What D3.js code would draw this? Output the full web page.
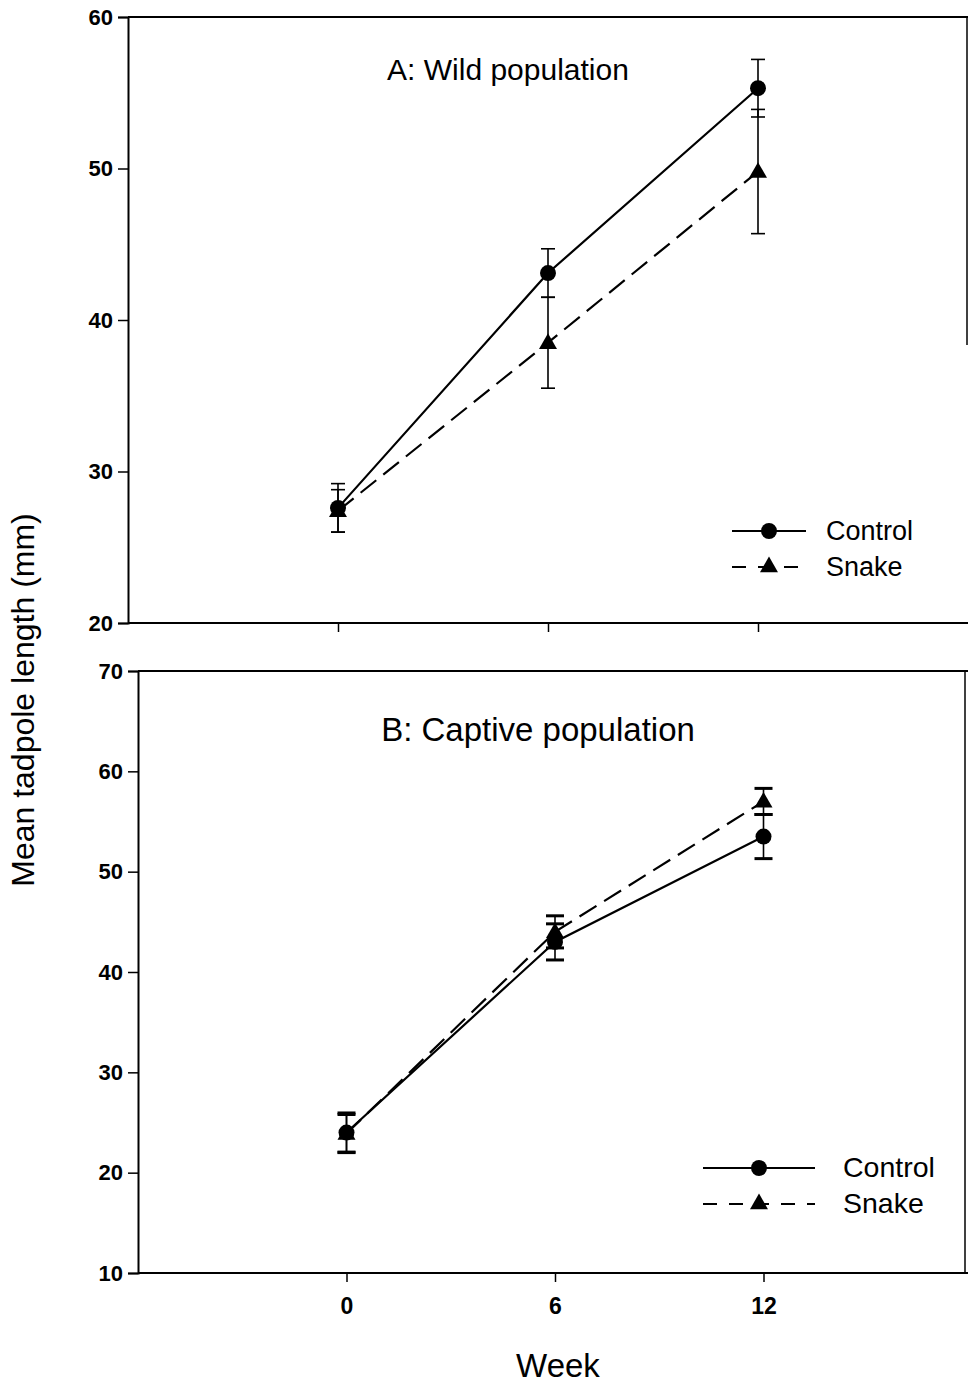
<!DOCTYPE html>
<html><head><meta charset="utf-8">
<script src="https://cdn.jsdelivr.net/npm/d3@7"></script>
<style>body{margin:0;background:#fff}svg{display:block}</style>
</head><body>
<svg id="c" width="968" height="1386"></svg>
<script>
const weeks = [0, 6, 12];
const wildControl = [27.6, 43.1, 55.3];
const wildControlErr = [1.6, 1.6, 1.9];
const wildSnake = [27.4, 38.5, 49.8];
const wildSnakeErr = [1.4, 3.0, 4.1];
const captiveControl = [24.0, 43.0, 53.5];
const captiveControlErr = [1.95, 1.8, 2.2];
const captiveSnake = [23.9, 44.0, 57.0];
const captiveSnakeErr = [1.9, 1.6, 1.3];
const wildTicks = [20, 30, 40, 50, 60];
const captiveTicks = [10, 20, 30, 40, 50, 60, 70];
const xTickLabels = ["0", "6", "12"];
const seriesNames = ["Control", "Snake"];

const svg = d3.select("#c");
const FONT = "Liberation Sans, Arial, sans-serif";

function panel(cfg) {
  const g = svg.append("g");
  const x = d3.scaleLinear().domain([-6, 18]).range([cfg.left, cfg.left + 24 * cfg.pxPerWeek]);
  const y = d3.scaleLinear().domain(cfg.yDomain).range([cfg.bottom, cfg.top]);

  const ya = g.append("g").attr("transform", `translate(${cfg.left},0)`)
    .call(d3.axisLeft(y).tickValues(cfg.yTicks).tickSize(10).tickPadding(5));
  ya.select(".domain").attr("stroke", "#000").attr("stroke-width", 2);
  ya.selectAll(".tick line").attr("stroke-width", 1.5);
  ya.selectAll(".tick text").attr("font-family", FONT).attr("font-weight", "bold")
    .style("font-size", "22px").attr("fill", "#000");

  const xa = g.append("g").attr("transform", `translate(0,${cfg.bottom})`)
    .call(d3.axisBottom(x).tickValues(weeks).tickSize(9).tickPadding(16)
      .tickFormat((d, i) => cfg.xLabels ? xTickLabels[i] : ""));
  xa.select(".domain").attr("d", `M${cfg.left},0H968`).attr("stroke", "#000").attr("stroke-width", 2);
  xa.selectAll(".tick line").attr("stroke-width", 1.5);
  xa.selectAll(".tick text").attr("font-family", FONT).attr("font-weight", "bold")
    .style("font-size", "23px").attr("fill", "#000");

  g.append("line").attr("x1", cfg.left).attr("x2", 968).attr("y1", cfg.top).attr("y2", cfg.top)
    .attr("stroke", "#000").attr("stroke-width", 2);
  g.append("line").attr("x1", cfg.rightX).attr("x2", cfg.rightX).attr("y1", cfg.top).attr("y2", cfg.rightEnd)
    .attr("stroke", "#000").attr("stroke-width", 1.5);

  g.append("text").attr("x", cfg.titleX).attr("y", cfg.titleY).attr("text-anchor", "middle")
    .attr("font-family", FONT).attr("font-size", cfg.titleSize).attr("fill", "#000").text(cfg.title);

  const series = [
    {name: seriesNames[0], vals: cfg.control, err: cfg.controlErr, dash: null, sym: d3.symbolCircle, size: 200},
    {name: seriesNames[1], vals: cfg.snake, err: cfg.snakeErr, dash: "20,9", sym: d3.symbolTriangle, size: 140}
  ];
  const line = d3.line().x((d, i) => x(weeks[i])).y(d => y(d));
  series.slice().reverse().forEach(s => {
    s.vals.forEach((v, i) => {
      const cx = x(weeks[i]);
      g.append("line").attr("x1", cx).attr("x2", cx).attr("y1", y(v - s.err[i])).attr("y2", y(v + s.err[i]))
        .attr("stroke", "#000").attr("stroke-width", 1.6);
      [v - s.err[i], v + s.err[i]].forEach(e => {
        g.append("line").attr("x1", cx - cfg.capW).attr("x2", cx + cfg.capW).attr("y1", y(e)).attr("y2", y(e))
          .attr("stroke", "#000").attr("stroke-width", cfg.capStroke);
      });
    });
    g.append("path").datum(s.vals).attr("d", line).attr("fill", "none").attr("stroke", "#000")
      .attr("stroke-width", 2.2).attr("stroke-dasharray", s.dash);
    g.selectAll(null).data(s.vals).enter().append("path")
      .attr("d", d3.symbol().type(s.sym).size(s.size))
      .attr("transform", (d, i) => `translate(${x(weeks[i])},${y(d) + (s.sym === d3.symbolTriangle ? 1 : 0)})`)
      .attr("fill", "#000");
  });

  series.forEach((s, i) => {
    const ly = cfg.legY + i * 36;
    g.append("line").attr("x1", cfg.legX1).attr("x2", cfg.legX2).attr("y1", ly).attr("y2", ly)
      .attr("stroke", "#000").attr("stroke-width", 2.2).attr("stroke-dasharray", s.dash ? "14,12" : null);
    g.append("path").attr("d", d3.symbol().type(s.sym).size(s.size))
      .attr("transform", `translate(${(cfg.legX1 + cfg.legX2) / 2},${ly})`).attr("fill", "#000");
    g.append("text").attr("x", cfg.legText).attr("y", ly + 9).attr("font-family", FONT)
      .attr("font-size", cfg.legSize).attr("fill", "#000").text(s.name);
  });
}

panel({left: 128, top: 17, bottom: 623, pxPerWeek: 35, yDomain: [20, 60], yTicks: wildTicks,
  control: wildControl, controlErr: wildControlErr, snake: wildSnake, snakeErr: wildSnakeErr,
  title: "A: Wild population", titleX: 508, titleY: 80, titleSize: 30,
  rightX: 967, rightEnd: 345, capW: 7, capStroke: 1.6, xLabels: false,
  legY: 531, legX1: 732, legX2: 806, legText: 826, legSize: 27});

panel({left: 138, top: 671, bottom: 1273, pxPerWeek: 34.75, yDomain: [10, 70], yTicks: captiveTicks,
  control: captiveControl, controlErr: captiveControlErr, snake: captiveSnake, snakeErr: captiveSnakeErr,
  title: "B: Captive population", titleX: 538, titleY: 741, titleSize: 33,
  rightX: 965, rightEnd: 1273, capW: 9, capStroke: 3, xLabels: true,
  legY: 1168, legX1: 703, legX2: 815, legText: 843, legSize: 28.5});

svg.append("text").attr("transform", "translate(34,700) rotate(-90)").attr("text-anchor", "middle")
  .attr("font-family", FONT).attr("font-size", 32).attr("fill", "#000").text("Mean tadpole length (mm)");
svg.append("text").attr("x", 558).attr("y", 1377).attr("text-anchor", "middle")
  .attr("font-family", FONT).attr("font-size", 33).attr("fill", "#000").text("Week");
</script>
</body></html>
